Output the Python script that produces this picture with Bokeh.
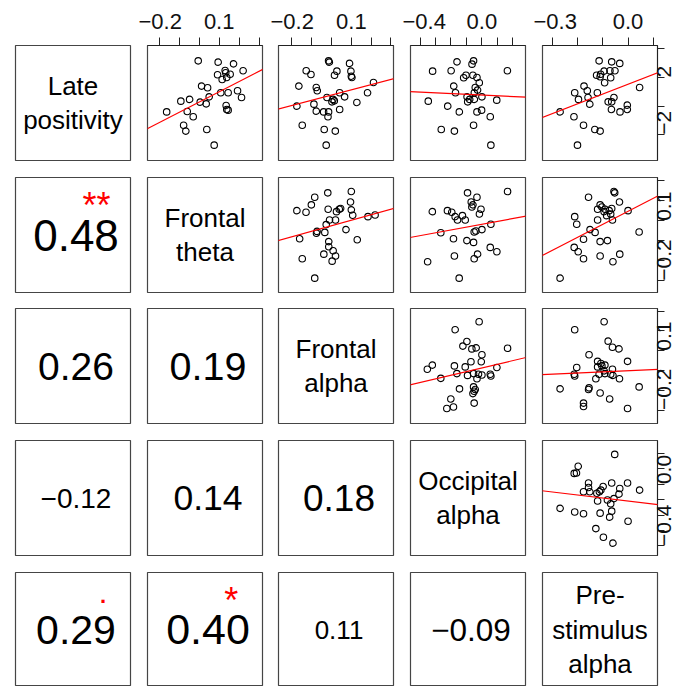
import math
import numpy as np
from bokeh.plotting import figure
from bokeh.layouts import gridplot
from bokeh.models import Range1d, LinearAxis, FixedTicker, Slope
from bokeh.core.properties import value
from bokeh.embed import file_html
from bokeh.resources import INLINE

# ---------------- data ----------------
var_labels = ["Late\npositivity", "Frontal\ntheta", "Frontal\nalpha",
              "Occipital\nalpha", "Pre-\nstimulus\nalpha"]
var_ranges = [(-3.79, 4.23), (-0.259, 0.317), (-0.268, 0.313),
              (-0.462, 0.282), (-0.34, 0.117)]
var_ticks = [[-2.0, 0.0, 2.0, 4.0],
             [-0.2, -0.1, 0.0, 0.1, 0.2, 0.3],
             [-0.2, -0.1, 0.0, 0.1, 0.2, 0.3],
             [-0.4, -0.3, -0.2, -0.1, 0.0, 0.1, 0.2],
             [-0.3, -0.2, -0.1, 0.0, 0.1]]
var_tick_labels = [{2.0: "2", -2.0: "\u22122"},
                   {-0.2: "\u22120.2", 0.1: "0.1"},
                   {-0.2: "\u22120.2", 0.1: "0.1"},
                   {-0.4: "\u22120.4", 0.0: "0.0"},
                   {-0.3: "\u22120.3", 0.0: "0.0"}]

# scatter panels (row variable on y, column variable on x)
p01_x = [-0.005, 0.095, 0.172, 0.22, 0.13, 0.133, 0.092, 0.155, 0.115, 0.138, 0.012, 0.042, 0.108, 0.145, 0.192, 0.212, 0.05, 0.005, 0.035, -0.092, -0.048, -0.163, -0.06, -0.03, 0.135, 0.138, 0.145, -0.078, -0.067, 0.038, 0.075]
p01_y = [3.16, 3.07, 2.95, 2.47, 2.49, 2.33, 2.19, 2.23, 1.86, 2.0, 1.40, 1.28, 0.93, 0.93, 1.07, 0.60, 0.65, 0.28, 0.16, 0.35, 0.47, -0.40, -0.37, -0.74, 0.05, -0.23, -0.28, -1.33, -1.74, -1.63, -2.72]

p02_x = [-0.015, -0.011, 0.091, -0.128, -0.104, 0.027, 0.015, 0.098, 0.1, 0.103, -0.165, -0.077, -0.072, 0.212, 0.182, -0.175, -0.023, 0.007, 0.014, 0.002, 0.041, 0.066, 0.128, -0.077, -0.04, -0.015, -0.018, 0.041, -0.148, -0.037, 0.019, -0.027, -0.089]
p02_y = [3.16, 3.07, 2.98, 2.47, 2.21, 2.44, 2.16, 2.44, 2.09, 2.0, 1.40, 1.30, 1.07, 1.65, 0.93, 0.0, 0.60, 0.47, 0.37, 0.30, 0.93, 0.65, 0.26, -0.35, -0.40, -0.40, -0.74, -0.23, -1.33, -1.63, -1.74, -2.72, 0.14]

p03_x = [-0.161, -0.054, -0.064, -0.319, -0.199, -0.118, -0.103, -0.058, -0.032, -0.017, 0.165, -0.182, -0.171, -0.043, -0.028, -0.049, -0.347, -0.096, -0.079, -0.049, 0.0, 0.096, -0.221, -0.146, -0.032, -0.002, 0.054, -0.263, -0.178, -0.054, 0.058, -0.092]
p03_y = [3.09, 3.16, 2.93, 2.44, 2.47, 1.98, 2.16, 2.16, 2.0, 1.63, 2.47, 1.40, 0.93, 1.30, 1.12, 0.93, 0.35, 0.65, 0.47, 0.47, 0.65, 0.42, 0.0, -0.40, -0.40, -0.28, -0.74, -1.63, -1.74, -1.33, -2.72, 0.30]

p04_x = [-0.115, -0.065, -0.033, -0.125, -0.109, -0.095, -0.072, -0.052, -0.111, -0.069, -0.093, -0.175, -0.212, -0.162, -0.122, 0.046, -0.197, -0.159, -0.152, -0.056, -0.079, -0.065, -0.003, -0.066, -0.032, -0.003, -0.27, -0.215, -0.177, -0.132, -0.111, -0.201]
p04_y = [3.16, 3.09, 2.98, 2.16, 2.23, 2.44, 2.47, 2.47, 2.05, 1.98, 1.63, 1.40, 0.93, 1.07, 0.93, 1.30, 0.47, 0.60, 0.14, 0.60, 0.30, 0.30, 0.07, -0.23, -0.40, -0.23, -0.40, -0.74, -1.33, -1.63, -1.74, -2.72]

p12_x = [-0.019, 0.1, -0.085, -0.102, -0.175, -0.129, -0.017, 0.096, 0.1, 0.107, 0.025, 0.039, 0.046, -0.01, 0.02, -0.027, -0.073, -0.076, -0.034, -0.161, 0.073, 0.184, 0.22, 0.13, -0.014, -0.014, 0.008, -0.039, 0.02, 0.003, -0.148, -0.085]
p12_y = [0.24, 0.247, 0.218, 0.18, 0.151, 0.143, 0.158, 0.194, 0.155, 0.128, 0.146, 0.158, 0.162, 0.104, 0.104, 0.081, 0.047, 0.038, 0.042, 0.01, 0.056, 0.121, 0.129, 0.005, -0.004, -0.03, -0.05, -0.067, -0.076, -0.102, -0.09, -0.187]

p13_x = [-0.093, -0.032, -0.069, -0.058, -0.065, -0.006, -0.016, -0.321, -0.223, -0.195, -0.173, -0.158, -0.126, -0.108, -0.266, -0.05, -0.039, 0.0, 0.058, -0.184, -0.097, -0.054, -0.178, -0.028, -0.05, 0.054, 0.097, -0.351, -0.147, 0.166]
p13_y = [0.24, 0.218, 0.194, 0.18, 0.169, 0.158, 0.134, 0.146, 0.151, 0.143, 0.121, 0.104, 0.126, 0.104, 0.04, 0.044, 0.049, 0.056, 0.083, 0.01, 0.001, -0.008, -0.076, -0.067, -0.09, -0.033, -0.055, -0.105, -0.187, 0.247]

p14_x = [-0.056, -0.053, -0.034, -0.157, -0.111, -0.104, -0.121, -0.091, -0.075, -0.065, -0.095, -0.069, -0.085, -0.062, -0.212, -0.204, -0.121, 0.0, 0.044, -0.151, -0.131, -0.177, -0.111, -0.082, -0.214, -0.198, -0.177, -0.111, -0.06, -0.033, -0.27]
p14_y = [0.247, 0.24, 0.194, 0.218, 0.18, 0.169, 0.158, 0.158, 0.151, 0.162, 0.146, 0.134, 0.126, 0.104, 0.121, 0.083, 0.104, 0.151, 0.044, 0.056, 0.042, 0.008, -0.004, 0.001, -0.033, -0.055, -0.09, -0.076, -0.105, -0.067, -0.187]

p23_x = [-0.018, -0.173, -0.097, -0.123, -0.065, -0.037, 0.0, -0.071, -0.004, -0.178, -0.108, -0.353, -0.321, -0.266, -0.162, -0.093, -0.054, -0.022, 0.0, 0.054, 0.058, 0.097, 0.166, -0.032, -0.145, -0.054, -0.043, -0.05, -0.058, -0.201, -0.227, -0.184, -0.05]
p23_y = [0.246, 0.206, 0.146, 0.123, 0.109, 0.114, 0.079, 0.044, 0.044, 0.023, 0.018, 0.006, 0.027, -0.04, -0.016, -0.025, -0.016, -0.019, -0.023, -0.019, -0.028, 0.015, 0.112, -0.042, -0.093, -0.083, -0.096, -0.105, -0.117, -0.144, -0.192, -0.185, -0.165]

p24_x = [-0.095, -0.212, -0.079, -0.062, -0.036, -0.155, -0.121, -0.108, -0.104, -0.121, -0.092, -0.002, -0.204, -0.214, -0.212, -0.128, -0.115, -0.092, -0.062, -0.069, -0.06, -0.034, -0.155, -0.157, -0.27, -0.111, -0.073, -0.177, -0.177, -0.002, 0.044, -0.095]
p24_y = [0.246, 0.206, 0.148, 0.117, 0.109, 0.079, 0.046, 0.035, 0.023, 0.018, 0.027, 0.046, 0.015, -0.019, -0.028, -0.042, -0.019, -0.016, 0.006, -0.019, -0.025, -0.042, -0.088, -0.096, -0.093, -0.114, -0.144, -0.165, -0.182, -0.192, -0.083, -0.002]

p34_x = [-0.053, -0.198, -0.214, -0.205, -0.157, -0.157, -0.177, -0.152, -0.124, -0.114, -0.108, -0.099, -0.065, -0.002, -0.033, -0.036, 0.046, -0.121, -0.082, -0.056, -0.069, -0.27, -0.212, -0.177, -0.111, -0.065, -0.073, 0.0, -0.128, -0.098, -0.06]
p34_y = [0.192, 0.115, 0.069, 0.072, 0.007, -0.022, -0.05, -0.05, -0.059, -0.05, -0.039, -0.016, 0.007, 0.007, -0.029, -0.065, -0.039, -0.109, -0.103, -0.094, -0.127, -0.157, -0.181, -0.192, -0.188, -0.175, -0.214, -0.24, -0.288, -0.344, -0.382]

scatter_data = {(0, 1): (p01_x, p01_y), (0, 2): (p02_x, p02_y), (0, 3): (p03_x, p03_y),
                (0, 4): (p04_x, p04_y), (1, 2): (p12_x, p12_y), (1, 3): (p13_x, p13_y),
                (1, 4): (p14_x, p14_y), (2, 3): (p23_x, p23_y), (2, 4): (p24_x, p24_y),
                (3, 4): (p34_x, p34_y)}

# correlations shown in the lower panels and their significance marks
cor_text = {(1, 0): "0.48", (2, 0): "0.26", (2, 1): "0.19", (3, 0): "\u22120.12",
            (3, 1): "0.14", (3, 2): "0.18", (4, 0): "0.29", (4, 1): "0.40",
            (4, 2): "0.11", (4, 3): "\u22120.09"}
cor_signif = {(1, 0): "**", (4, 0): ".", (4, 1): "*"}

# ---------------- style ----------------
FONT = "Liberation Sans"
cor_font_px = {(1, 0): 44, (2, 0): 39, (2, 1): 39.5, (3, 0): 28, (3, 1): 35.5,
               (3, 2): 37, (4, 0): 41, (4, 1): 43, (4, 2): 26, (4, 3): 31.5}
# x, y (panel fraction), baseline, font px, weight
star_style = {(1, 0): (0.704, 0.757, "middle", 36, "normal"),
              (4, 0): (0.761, 0.798, "alphabetic", 22, "bold"),
              (4, 1): (0.729, 0.752, "middle", 36, "normal")}
col_borders = [(15, 8), (9, 8), (8, 9), (8, 8), (9, 26)]
row_borders = [(45, 8), (9, 8), (8, 8), (9, 9), (8, 0)]
frame_w = 115
frame_h = [115, 115, 115, 115, 114]
N = 5


def make_axis(v, side):
    ax = LinearAxis(ticker=FixedTicker(ticks=var_ticks[v], minor_ticks=[]))
    ax.major_label_overrides = {t: var_tick_labels[v].get(t, "") for t in var_ticks[v]}
    ax.major_label_text_font = FONT
    ax.major_label_text_color = "#111111"
    ax.axis_line_color = "#222222"
    ax.major_tick_line_color = "#222222"
    ax.major_tick_in = 0
    if side == "above":
        ax.major_tick_out = 8
        ax.major_label_standoff = 9
        ax.major_label_text_font_size = "22px"
    else:
        ax.major_tick_out = 7
        ax.major_label_standoff = 0
        ax.major_label_text_font_size = "21px"
        ax.major_label_orientation = math.pi / 2
    return ax


rows = []
for r in range(N):
    row = []
    for c in range(N):
        if r < c:
            xr = Range1d(*var_ranges[c])
            yr = Range1d(*var_ranges[r])
        else:
            xr = Range1d(0, 1)
            yr = Range1d(0, 1)
        p = figure(frame_width=frame_w, frame_height=frame_h[r], x_range=xr, y_range=yr,
                   x_axis_location=None, y_axis_location=None, tools="",
                   toolbar_location=None, output_backend="svg",
                   min_border_left=col_borders[c][0], min_border_right=col_borders[c][1],
                   min_border_top=row_borders[r][0], min_border_bottom=row_borders[r][1])
        p.grid.visible = False
        p.outline_line_color = "#454545"
        p.outline_line_width = 1.2
        p.background_fill_color = "white"
        p.border_fill_color = "white"

        if r < c:
            xs, ys = scatter_data[(r, c)]
            p.scatter(xs, ys, marker="circle", size=6.5, fill_color=None,
                      line_color="black", line_width=1.1)
            slope, icpt = np.polyfit(np.array(xs), np.array(ys), 1)
            p.add_layout(Slope(gradient=float(slope), y_intercept=float(icpt),
                               line_color="red", line_width=1.2))
        elif r == c:
            p.text(x=[0.5], y=[0.5], text=[var_labels[r]], text_align="center",
                   text_baseline="middle", text_font=value(FONT), text_font_size="26px",
                   text_line_height=1.15, text_color="black")
        else:
            p.text(x=[0.5], y=[0.5], text=[cor_text[(r, c)]], x_offset=3,
                   text_align="center", text_baseline="middle", text_font=value(FONT),
                   text_font_size=f"{cor_font_px[(r, c)]}px", text_color="black")
            if (r, c) in cor_signif:
                sx, sy, base, fpx, weight = star_style[(r, c)]
                p.text(x=[sx], y=[sy], text=[cor_signif[(r, c)]], text_align="center",
                       text_baseline=base, text_font=value(FONT), text_font_style=weight,
                       text_font_size=f"{fpx}px", text_color="red")

        if r == 0 and c >= 1:
            p.add_layout(make_axis(c, "above"), "above")
        if c == N - 1 and r <= 3:
            p.add_layout(make_axis(r, "right"), "right")
        row.append(p)
    rows.append(row)

grid = gridplot(rows, toolbar_location=None)
open("out.html", "w").write(file_html(grid, INLINE))
